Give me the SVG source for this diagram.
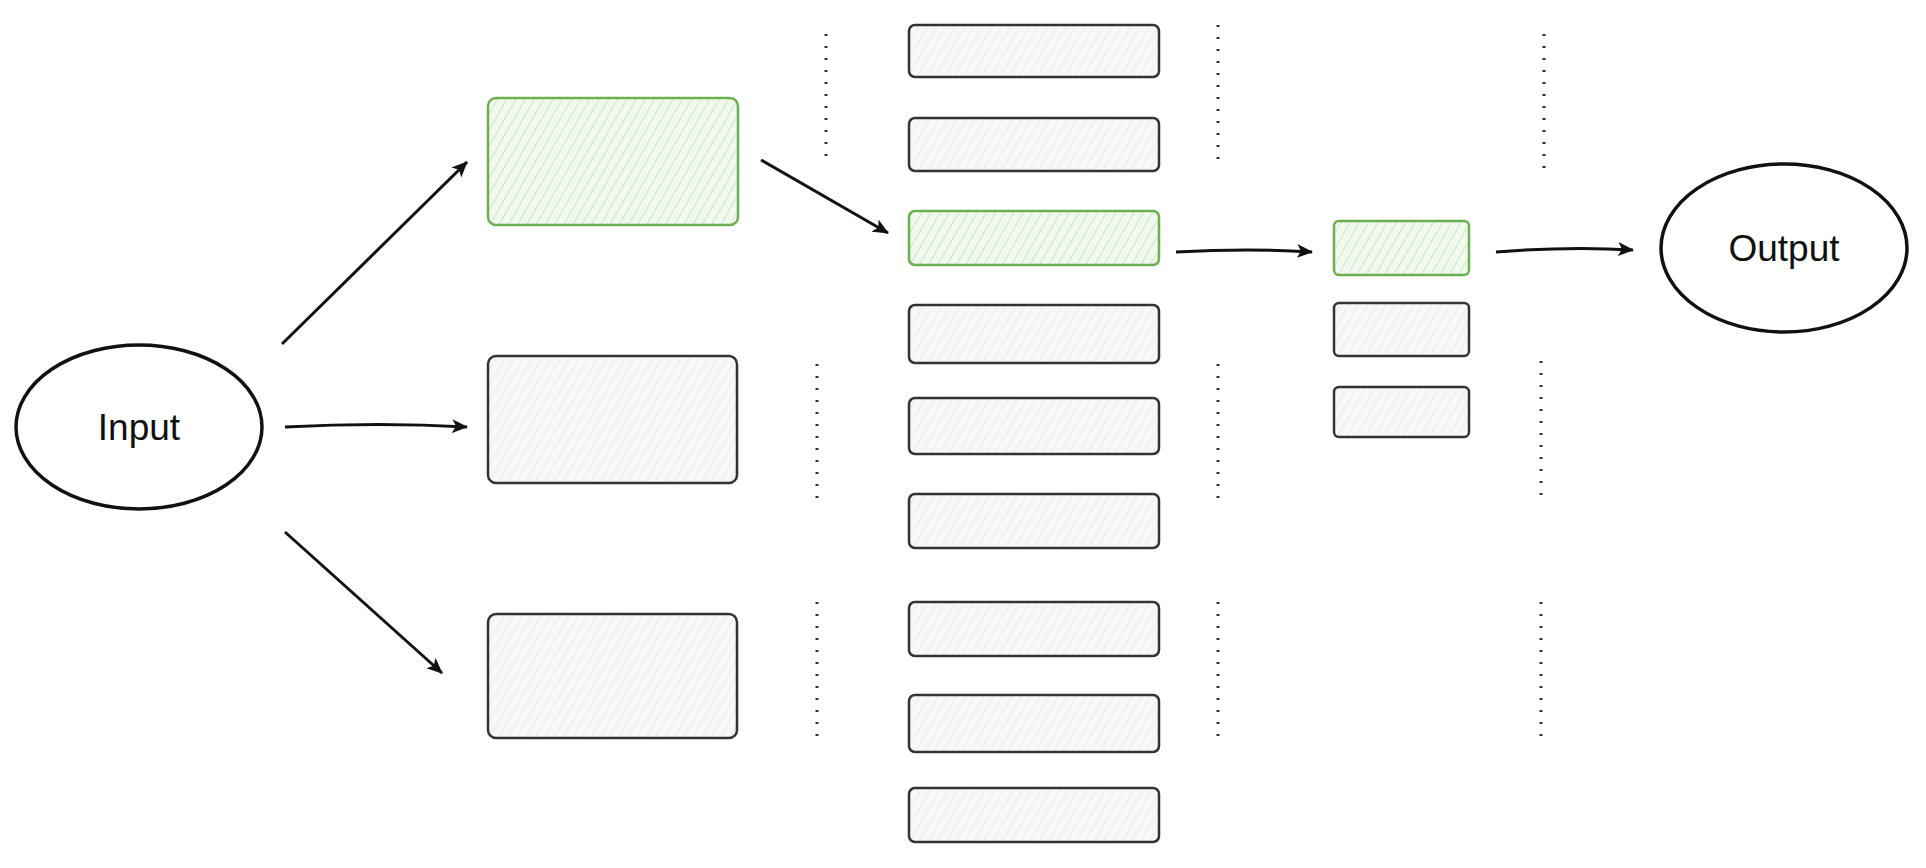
<svg xmlns="http://www.w3.org/2000/svg" width="1926" height="868" viewBox="0 0 1926 868">
<style>
.n{fill:url(#h);stroke:#333;stroke-width:2.5}
.g{fill:url(#hg);stroke:#6cb050;stroke-width:2.5}
.e{fill:#fff;stroke:#111;stroke-width:3.5}
.d{stroke:#333;stroke-width:3;stroke-dasharray:2 10}
.c{stroke:#111;stroke-width:3;fill:none;marker-end:url(#a)}
text{font-family:"Liberation Sans",Arial,sans-serif;font-size:37px;fill:#111}
</style>
<defs>
<pattern id="h" width="8" height="8" patternUnits="userSpaceOnUse" patternTransform="rotate(30)"><rect width="8" height="8" fill="#f8f8f8"/><line x1="0" y1="0" x2="0" y2="8" stroke="#ddd" stroke-width="1"/></pattern>
<pattern id="hg" width="8" height="8" patternUnits="userSpaceOnUse" patternTransform="rotate(30)"><rect width="8" height="8" fill="#f1f8ee"/><line x1="0" y1="0" x2="0" y2="8" stroke="#a8d49a" stroke-width="1"/></pattern>
<marker id="a" markerWidth="16" markerHeight="14" refX="15" refY="7" orient="auto" markerUnits="userSpaceOnUse"><path d="M0,0 L16,7 L0,14 L4,7 Z" fill="#111"/></marker>
</defs>
<g id="input"><ellipse class="e" cx="139" cy="427" rx="123" ry="82"/><text x="139" y="440" text-anchor="middle">Input</text></g>
<g id="output"><ellipse class="e" cx="1784" cy="248" rx="123" ry="84"/><text x="1784" y="261" text-anchor="middle">Output</text></g>
<g id="l1a"><rect class="g" x="488" y="98" width="250" height="127" rx="8"/></g>
<g id="l1b"><rect class="n" x="488" y="356" width="249" height="127" rx="8"/></g>
<g id="l1c"><rect class="n" x="488" y="614" width="249" height="124" rx="8"/></g>
<g id="l2a"><rect class="n" x="909" y="25" width="250" height="52" rx="6"/></g>
<g id="l2b"><rect class="n" x="909" y="118" width="250" height="53" rx="6"/></g>
<g id="l2c"><rect class="g" x="909" y="211" width="250" height="54" rx="6"/></g>
<g id="l2d"><rect class="n" x="909" y="305" width="250" height="58" rx="6"/></g>
<g id="l2e"><rect class="n" x="909" y="398" width="250" height="56" rx="6"/></g>
<g id="l2f"><rect class="n" x="909" y="494" width="250" height="54" rx="6"/></g>
<g id="l2g"><rect class="n" x="909" y="602" width="250" height="54" rx="6"/></g>
<g id="l2h"><rect class="n" x="909" y="695" width="250" height="57" rx="6"/></g>
<g id="l2i"><rect class="n" x="909" y="788" width="250" height="54" rx="6"/></g>
<g id="l3a"><rect class="g" x="1334" y="221" width="135" height="54" rx="5"/></g>
<g id="l3b"><rect class="n" x="1334" y="303" width="135" height="53" rx="5"/></g>
<g id="l3c"><rect class="n" x="1334" y="387" width="135" height="50" rx="5"/></g>
<g id="dots">
<line class="d" x1="826" y1="34" x2="826" y2="166"/><line class="d" x1="1218" y1="25" x2="1218" y2="160"/><line class="d" x1="1544" y1="34" x2="1544" y2="168"/>
<line class="d" x1="817" y1="364" x2="817" y2="500"/><line class="d" x1="1218" y1="364" x2="1218" y2="501"/><line class="d" x1="1541" y1="361" x2="1541" y2="495"/>
<line class="d" x1="817" y1="602" x2="817" y2="737"/><line class="d" x1="1218" y1="602" x2="1218" y2="737"/><line class="d" x1="1541" y1="602" x2="1541" y2="737"/>
</g>
<g id="connectors">
<path class="c" d="M282,344 L467,162"/>
<path class="c" d="M285,427 Q380,422 467,427"/>
<path class="c" d="M285,532 L442,673"/>
<path class="c" d="M761,160 L888,233"/>
<path class="c" d="M1176,252 Q1250,248 1312,252"/>
<path class="c" d="M1496,252 Q1570,246 1633,250"/>
</g>
</svg>
